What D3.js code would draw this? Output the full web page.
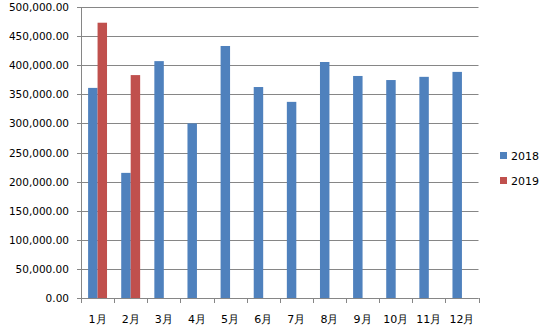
<!DOCTYPE html>
<html>
<head>
<meta charset="utf-8">
<script src="https://cdn.jsdelivr.net/npm/d3@7"></script>
<style>
  body { margin: 0; background: #fff; }
  text { font-family: "DejaVu Sans", Verdana, sans-serif; fill: #000; }
</style>
</head>
<body>
<div id="chart"></div>
<script>
var months = ["1月", "2月", "3月", "4月", "5月", "6月", "7月", "8月", "9月", "10月", "11月", "12月"];
var seriesNames = ["2018", "2019"];
var values2018 = [361000, 215000, 407000, 300000, 433000, 362500, 337000, 405500, 381500, 374500, 380000, 388500];
var values2019 = [473000, 383000, 0, 0, 0, 0, 0, 0, 0, 0, 0, 0];
var yTicks = [0, 50000, 100000, 150000, 200000, 250000, 300000, 350000, 400000, 450000, 500000];
var colors = ["#4F81BD", "#C0504D"];

var width = 549,
    height = 335;
var plotLeft = 81, plotRight = 478.5, plotTop = 7, plotBottom = 298;

var svg = d3.select("#chart")
    .append("svg")
    .attr("width", width)
    .attr("height", height);

// scales
var x = d3.scaleBand()
    .domain(months)
    .range([plotLeft, plotRight]);

var y = d3.scaleLinear()
    .domain([0, 500000])
    .range([plotBottom, plotTop]);

var bw = x.bandwidth() / 3.5;
var x1 = d3.scaleBand()
    .domain(seriesNames)
    .range([bw * 0.75, bw * 2.75]);

var fmt = d3.format(",.2f");

// gridlines
svg.append("g")
    .selectAll("line")
    .data(yTicks)
    .enter()
    .append("line")
    .attr("x1", plotLeft - 4)
    .attr("x2", plotRight)
    .attr("y1", d => Math.round(y(d)) + 0.5)
    .attr("y2", d => Math.round(y(d)) + 0.5)
    .style("stroke", "#868686")
    .style("stroke-width", 1);

// y labels
svg.append("g")
    .selectAll("text")
    .data(yTicks)
    .enter()
    .append("text")
    .attr("x", 69)
    .attr("y", d => y(d) + 4)
    .attr("text-anchor", "end")
    .style("font-size", "10.5px")
    .text(d => fmt(d));

// bars
var data = months.map(function(m, i) {
    return { month: m, values: [values2018[i], values2019[i]] };
});

var groups = svg.append("g")
    .selectAll("g")
    .data(data)
    .enter()
    .append("g")
    .attr("transform", d => "translate(" + x(d.month) + ",0)");

groups.selectAll("rect")
    .data(d => d.values.map((v, j) => ({ name: seriesNames[j], value: v, color: colors[j] })))
    .enter()
    .append("rect")
    .attr("x", d => x1(d.name))
    .attr("width", x1.bandwidth())
    .attr("y", d => y(d.value))
    .attr("height", d => plotBottom - y(d.value))
    .style("fill", d => d.color);

// axes lines
svg.append("line")
    .attr("x1", plotLeft + 0.5).attr("x2", plotLeft + 0.5)
    .attr("y1", plotTop).attr("y2", plotBottom + 0.5)
    .style("stroke", "#868686");

svg.append("line")
    .attr("x1", plotLeft).attr("x2", plotRight)
    .attr("y1", plotBottom + 0.5).attr("y2", plotBottom + 0.5)
    .style("stroke", "#868686");

// x ticks at category boundaries
var bounds = months.map(m => x(m)).concat([plotRight]);
svg.append("g")
    .selectAll("line")
    .data(bounds)
    .enter()
    .append("line")
    .attr("x1", d => Math.round(d) + 0.5)
    .attr("x2", d => Math.round(d) + 0.5)
    .attr("y1", plotBottom)
    .attr("y2", plotBottom + 5)
    .style("stroke", "#868686");

// x labels
svg.append("g")
    .selectAll("text")
    .data(months)
    .enter()
    .append("text")
    .attr("x", d => x(d) + x.bandwidth() / 2)
    .attr("y", 323)
    .attr("text-anchor", "middle")
    .style("font-size", "11px")
    .text(d => d);

// legend
var legend = svg.append("g")
    .selectAll("g")
    .data(seriesNames)
    .enter()
    .append("g")
    .attr("transform", (d, i) => "translate(500," + (152 + i * 25) + ")");

legend.append("rect")
    .attr("width", 7)
    .attr("height", 7)
    .style("fill", (d, i) => colors[i]);

legend.append("text")
    .attr("x", 11)
    .attr("y", 8)
    .style("font-size", "11px")
    .text(d => d);
</script>
</body>
</html>
